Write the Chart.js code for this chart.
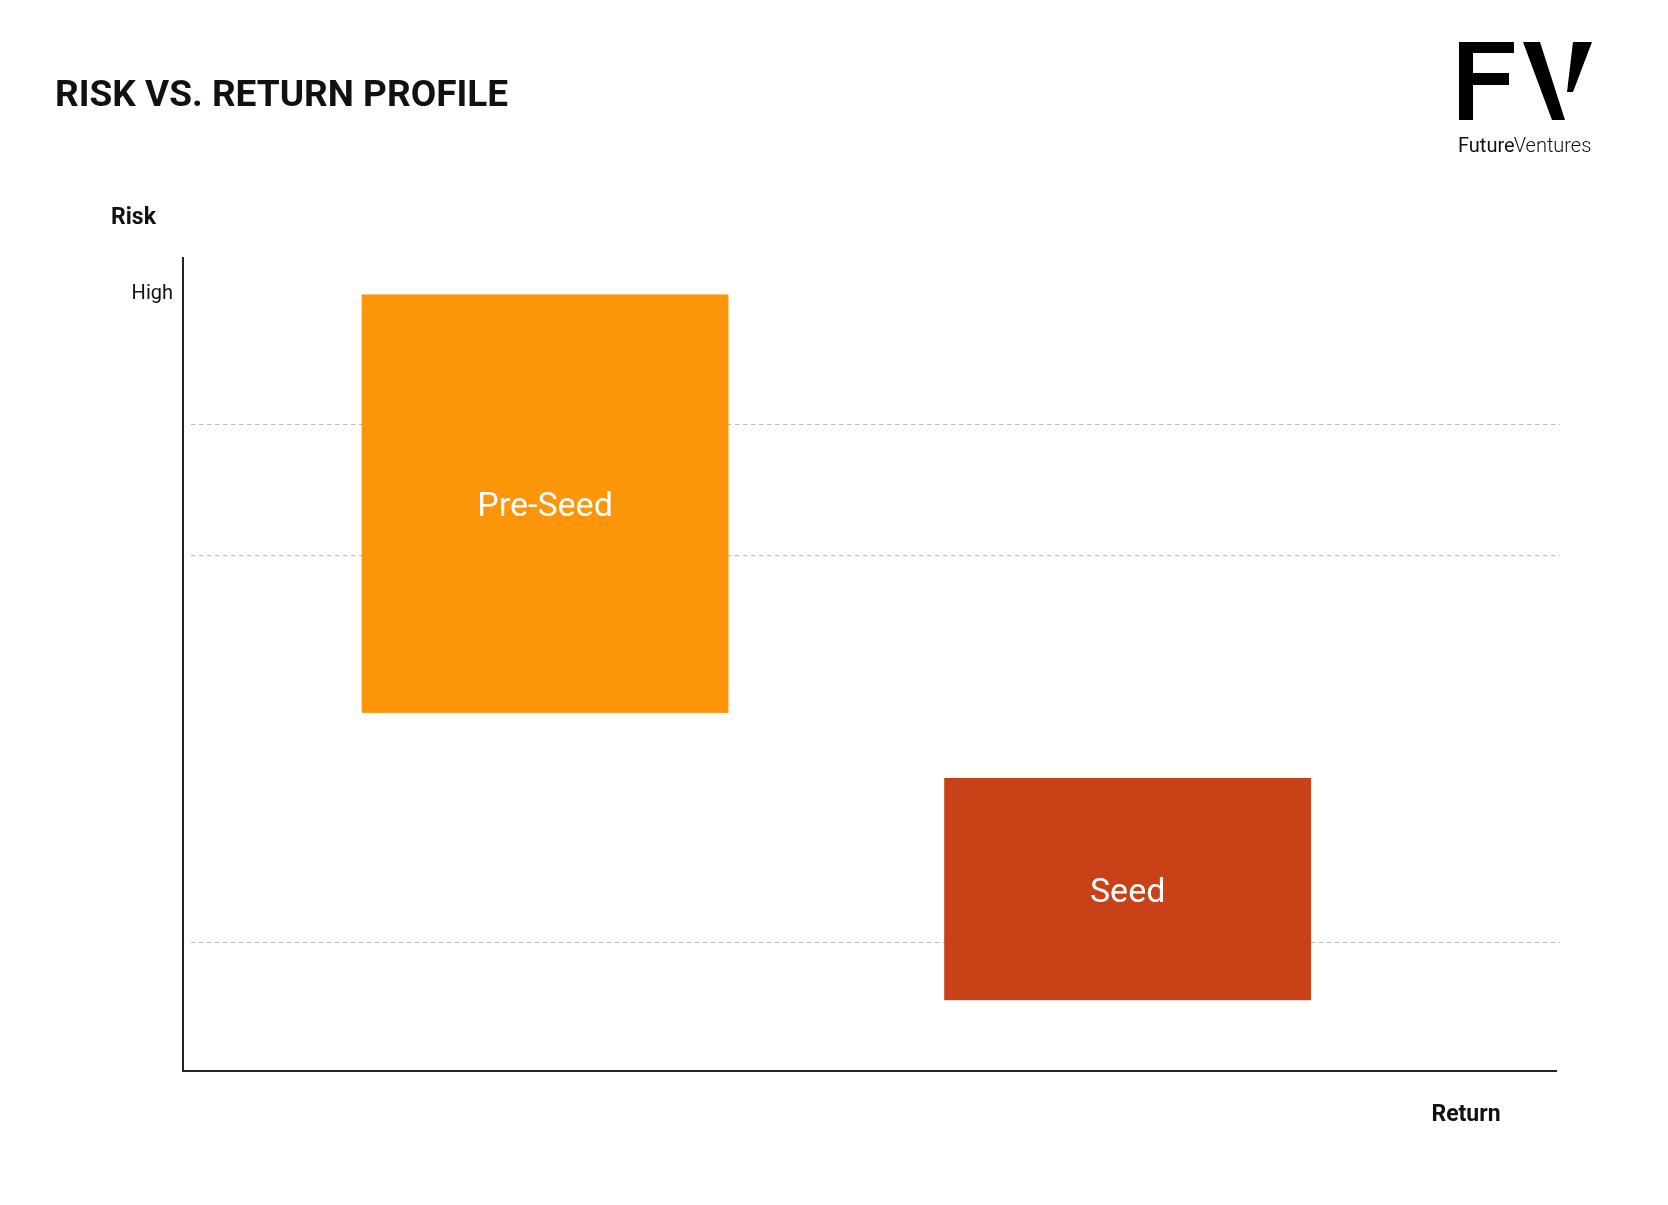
<!DOCTYPE html>
<html><head><meta charset="utf-8">
<script src="https://cdn.jsdelivr.net/npm/chart.js@4"></script>
<style>html,body{margin:0;background:#fff}#wrap{width:1668px;height:1205px}</style>
</head><body><div id="wrap"><canvas id="c"></canvas></div>
<script>
// --- Data ---
const stages = ['Pre-Seed', 'Seed'];
const returnLow = [13, 55.4];
const returnHigh = [39.7, 82.1];
const riskLow = [44, 8.7];
const riskHigh = [95.4, 36];
const stageColors = ['#FB950A', '#C94117'];
const gridValues = [15.9, 63.4, 79.5];
const highValue = 95.4;

const boxes = {
  id: 'boxes',
  beforeDatasetsDraw(chart) {
    const { ctx, chartArea: a, scales: { x, y } } = chart;
    ctx.save();
    // dashed guide lines
    ctx.strokeStyle = '#bbb';
    ctx.lineWidth = 1;
    ctx.setLineDash([4, 4]);
    gridValues.forEach(v => {
      const py = Math.round(y.getPixelForValue(v)) + 0.5;
      ctx.beginPath(); ctx.moveTo(a.left + 8, py); ctx.lineTo(a.right + 3, py); ctx.stroke();
    });
    ctx.setLineDash([]);
    stages.forEach((s, i) => {
      const x0 = x.getPixelForValue(returnLow[i]), x1 = x.getPixelForValue(returnHigh[i]);
      const y0 = y.getPixelForValue(riskHigh[i]), y1 = y.getPixelForValue(riskLow[i]);
      ctx.fillStyle = stageColors[i];
      ctx.fillRect(x0, y0, x1 - x0, y1 - y0);
      ctx.fillStyle = '#fff';
      ctx.font = '34px Roboto';
      ctx.textAlign = 'center';
      ctx.textBaseline = 'middle';
      ctx.fillText(s, (x0 + x1) / 2, (y0 + y1) / 2 + 4);
    });
    ctx.restore();
  },
  afterDraw(chart) {
    const { ctx, chartArea: a, scales: { y } } = chart;
    ctx.save();
    // axes
    ctx.strokeStyle = '#222';
    ctx.lineWidth = 2;
    ctx.beginPath();
    ctx.moveTo(a.left, a.top); ctx.lineTo(a.left, a.bottom); ctx.lineTo(a.right, a.bottom);
    ctx.stroke();
    ctx.fillStyle = '#111';
    ctx.font = 'bold 37px Roboto';
    ctx.textBaseline = 'middle';
    ctx.fillText('RISK VS. RETURN PROFILE', 55, 97);
    ctx.font = 'bold 23px Roboto';
    ctx.fillText('Risk', 111, 218);
    ctx.textAlign = 'center';
    ctx.fillText('Return', 1466, 1115);
    ctx.textAlign = 'right';
    ctx.font = '20px Roboto';
    ctx.fillText('High', a.left - 10, y.getPixelForValue(highValue));
    // logo
    ctx.translate(-7, 0);
    ctx.fillStyle = '#000';
    ctx.fillRect(1466, 42, 55, 11);
    ctx.fillRect(1466, 42, 14, 78);
    ctx.fillRect(1466, 73, 50, 12);
    ctx.beginPath();
    ctx.moveTo(1530, 42); ctx.lineTo(1547, 42); ctx.lineTo(1572, 120); ctx.lineTo(1559, 120); ctx.closePath(); ctx.fill();
    ctx.beginPath();
    ctx.moveTo(1580, 42); ctx.lineTo(1599, 42); ctx.lineTo(1580, 92); ctx.lineTo(1574, 92); ctx.closePath(); ctx.fill();
    ctx.textAlign = 'left';
    ctx.font = '20px Roboto';
    ctx.fillStyle = '#111';
    ctx.fillText('Future', 1465, 147);
    const w = ctx.measureText('Future').width;
    ctx.font = '300 20px Roboto';
    ctx.fillText('Ventures', 1465 + w - 1, 147);
    ctx.restore();
  }
};

new Chart(document.getElementById('c'), {
  type: 'scatter',
  data: { datasets: [{ data: [] }] },
  options: {
    responsive: true, maintainAspectRatio: false, animation: false,
    layout: { padding: { left: 183, top: 257, right: 111, bottom: 134 } },
    plugins: { legend: { display: false }, tooltip: { enabled: false } },
    scales: {
      x: { type: 'linear', min: 0, max: 100, display: false },
      y: { type: 'linear', min: 0, max: 100, display: false }
    }
  },
  plugins: [boxes]
});
</script></body></html>
